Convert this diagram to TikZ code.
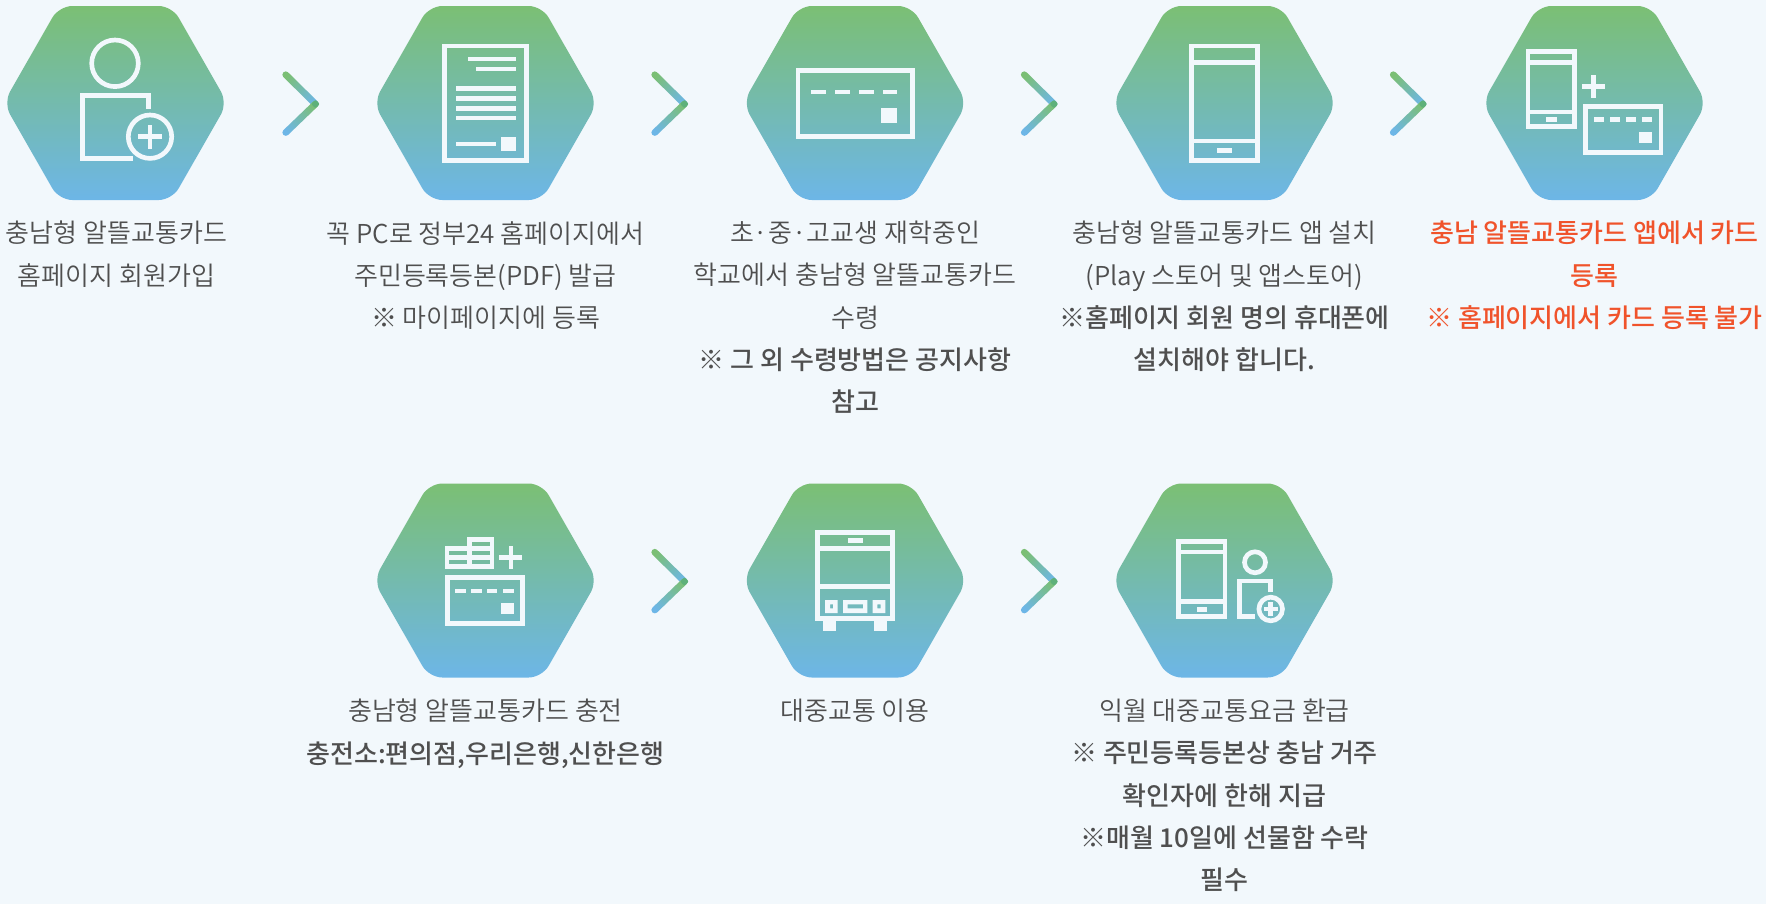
\documentclass[tikz,border=0pt]{standalone}
\usepackage{fontspec}
\setmainfont{Noto Sans CJK KR}[UprightFont=* DemiLight,BoldFont=* Medium]
\definecolor{bgc}{HTML}{F2F8FC}
\definecolor{gtop}{HTML}{7BBF74}
\definecolor{gbot}{HTML}{6DB6E7}
\definecolor{tipc}{HTML}{5EB17A}
\definecolor{txt}{HTML}{4F4F4F}
\definecolor{redt}{HTML}{F0532B}
\tikzset{
  hexfill/.style={top color=gtop,bottom color=gbot,rounded corners=10pt},
  ico/.style={draw=bgc,line width=3.5pt,miter limit=10},
  icf/.style={fill=bgc},
  lbl/.style={anchor=north,inner sep=0pt,align=center,text=txt,font=\fontsize{19.5pt}{31.6pt}\selectfont},
  lblred/.style={lbl,text=redt}
}
\newcommand{\hexa}[1]{\begin{scope}[shift={(#1)}]
  \shade[hexfill] (-56.5,-97) -- (56.5,-97) -- (112,0) -- (56.5,97) -- (-56.5,97) -- (-112,0) -- cycle;
\end{scope}}
\newcommand{\chev}[1]{\begin{scope}[shift={(#1)}]
  \shade[top color=gtop,bottom color=gbot,shading angle=45,rounded corners=2.4pt] (-29.75,-33.95) -- (4.45,-0.25) -- (-0.25,4.45) -- (-34.45,-29.25) -- cycle;
  \shade[top color=gtop,bottom color=gbot,shading angle=-45,rounded corners=2.4pt] (4.45,0.25) -- (-0.25,-4.45) -- (-34.45,28.45) -- (-29.75,33.15) -- cycle;
  \fill[tipc,rounded corners=1.5pt] (4.45,0) -- (0,-4.45) -- (-4.45,0) -- (0,4.45) -- cycle;
\end{scope}}
\begin{document}
\begin{tikzpicture}[x=0.75pt,y=-0.75pt]
\useasboundingbox (0,0) rectangle (1766,904);
\fill[bgc] (0,0) rectangle (1766,904);
% anchors
\coordinate (hex1) at (115.5,103);
\coordinate (hex2) at (485.5,103);
\coordinate (hex3) at (855,103);
\coordinate (hex4) at (1224.5,103);
\coordinate (hex5) at (1594.5,103);
\coordinate (hex6) at (485.5,580.5);
\coordinate (hex7) at (855,580.5);
\coordinate (hex8) at (1224.5,580.5);
\coordinate (chev1) at (315.5,104);
\coordinate (chev2) at (684.5,104);
\coordinate (chev3) at (1054,104);
\coordinate (chev4) at (1423,104);
\coordinate (chev6) at (684.5,581.5);
\coordinate (chev7) at (1054,581.5);
\foreach \h in {hex1,hex2,hex3,hex4,hex5,hex6,hex7,hex8}{\hexa{\h}}
\foreach \c in {chev1,chev2,chev3,chev4,chev6,chev7}{\chev{\c}}
% icon 1: person with plus
\draw[ico] (115,63.3) circle (23.3);
\draw[ico] (148.7,109) -- (148.7,95.6) -- (82.3,95.6) -- (82.3,158.4) -- (133,158.4);
\draw[ico] (150,136.7) circle (21.7);
\fill[icf] (138.3,134.4) rectangle (162.3,139);
\fill[icf] (147.7,124.7) rectangle (152.3,148.7);
% icon 2: document
\draw[ico] (444.6,46) rectangle (526.7,160.7);
\fill[icf] (467.7,56.7) rectangle (516,61.3);
\fill[icf] (475.7,66.7) rectangle (516,71.3);
\foreach \y in {86,96,106,115.7}{\fill[icf] (456,\y) rectangle (516,\y+4.6);}
\fill[icf] (456,141.7) rectangle (496,146.3);
\fill[icf] (501.3,136.7) rectangle (516,151.3);
% icon 3: card
\draw[ico] (798,70.3) rectangle (912.4,136.4);
\foreach \x in {811.3,835,859,882.7}{\fill[icf] (\x,89.7) rectangle (\x+14.7,94.3);}
\fill[icf] (880.7,108.3) rectangle (897.3,123);
% icon 4: phone
\draw[ico] (1191.3,46) rectangle (1257.3,160.3);
\draw[ico] (1191.3,62.3) -- (1257.3,62.3);
\draw[ico] (1191.3,141) -- (1257.3,141);
\fill[icf] (1217.3,148) rectangle (1232,152.7);
% icon 5: phone plus card
\draw[ico] (1528,51.6) rectangle (1574.7,126.7);
\draw[ico] (1528,62.3) -- (1574.7,62.3);
\draw[ico] (1528,112) -- (1574.7,112);
\fill[icf] (1546,117) rectangle (1556.7,122);
\fill[icf] (1582,84) rectangle (1604.7,88.7);
\fill[icf] (1591,75) rectangle (1595.7,97.7);
\draw[ico] (1585.6,106.3) rectangle (1661,152.4);
\foreach \x in {1594,1610,1625.7,1641.7}{\fill[icf] (\x,117.3) rectangle (\x+10.3,122);}
\fill[icf] (1639.3,132.3) rectangle (1652,142.7);
% icon 6: coins plus card
\draw[ico] (447,548.7) rectangle (469.3,566.3);
\draw[ico] (469.3,539.7) rectangle (492,566.3);
\draw[ico] (447,557.3) -- (492,557.3);
\draw[ico] (469.3,548.7) -- (492,548.7);
\fill[icf] (499.3,555) rectangle (522.3,559.7);
\fill[icf] (508.7,546) rectangle (513.3,568.7);
\draw[ico] (447.2,577.2) rectangle (522.8,623.5);
\foreach \x in {455.3,471.3,487,503.3}{\fill[icf] (\x,588.7) rectangle (\x+10.4,593.3);}
\fill[icf] (501,603.3) rectangle (513.7,614);
% icon 7: bus
\draw[ico] (817.5,532.5) rectangle (892.8,618.8);
\draw[ico] (817.5,548.7) -- (892.8,548.7);
\draw[ico] (817.5,586.2) -- (892.8,586.2);
\fill[icf] (848,538.3) rectangle (862.7,543);
\fill[icf] (823,621) rectangle (836,631.3);
\fill[icf] (874.3,621) rectangle (887,631.3);
\fill[icf,even odd rule] (825,600) rectangle (837.7,613) (830,604.3) rectangle (833,608.3);
\fill[icf,even odd rule] (843,600) rectangle (867.3,613) (847.7,604.3) rectangle (863,608.3);
\fill[icf,even odd rule] (872.7,600) rectangle (885.3,613) (877.3,604.3) rectangle (880.7,608.3);
% icon 8: phone and person
\draw[ico] (1178.5,541.2) rectangle (1225.1,616.5);
\draw[ico] (1178.5,552) -- (1225.1,552);
\draw[ico] (1178.5,601.7) -- (1225.1,601.7);
\fill[icf] (1196.7,607) rectangle (1207,611.7);
\draw[ico] (1255,562.3) circle (10.5);
\draw[ico] (1270.5,592) -- (1270.5,581) -- (1239.5,581) -- (1239.5,616.5) -- (1255,616.5);
\draw[ico] (1270.7,609) circle (11.8);
\fill[icf] (1263.7,606.7) rectangle (1277.7,611.3);
\fill[icf] (1268.4,602) rectangle (1273,616);
% labels
\node[lbl] (t1) at (116.5,221) {충남형 알뜰교통카드\\홈페이지 회원가입};
\node[lbl] (t2) at (485.5,221) {꼭 PC로 정부24 홈페이지에서\\주민등록등본(PDF) 발급\\※ 마이페이지에 등록};
\node[lbl] (t3) at (855,221) {초·중·고교생 재학중인\\학교에서 충남형 알뜰교통카드\\수령\\\textbf{※ 그 외 수령방법은 공지사항}\\\textbf{참고}};
\node[lbl] (t4) at (1224.5,221) {충남형 알뜰교통카드 앱 설치\\(Play 스토어 및 앱스토어)\\\textbf{※홈페이지 회원 명의 휴대폰에}\\\textbf{설치해야 합니다.}};
\node[lblred] (t5) at (1594.5,221) {\textbf{충남 알뜰교통카드 앱에서 카드}\\\textbf{등록}\\\textbf{※ 홈페이지에서 카드 등록 불가}};
\node[lbl] (t6) at (485.5,699) {충남형 알뜰교통카드 충전\\\textbf{충전소:편의점,우리은행,신한은행}};
\node[lbl] (t7) at (855,699) {대중교통 이용};
\node[lbl] (t8) at (1224.5,699) {익월 대중교통요금 환급\\\textbf{※ 주민등록등본상 충남 거주}\\\textbf{확인자에 한해 지급}\\\textbf{※매월 10일에 선물함 수락}\\\textbf{필수}};
\end{tikzpicture}
\end{document}
